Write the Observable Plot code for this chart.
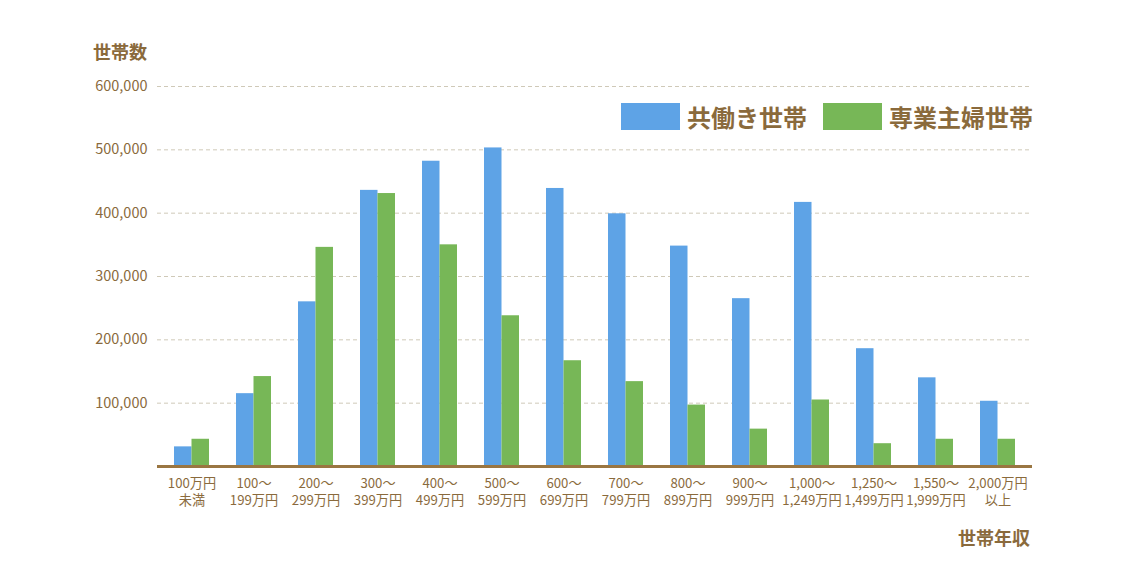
<!DOCTYPE html>
<html><head><meta charset="utf-8">
<script src="https://cdn.jsdelivr.net/npm/d3@7"></script>
<script src="https://cdn.jsdelivr.net/npm/@observablehq/plot@0.6"></script>
<style>
body{margin:0;background:#fff;font-family:"Noto Sans CJK JP",sans-serif;}
#wrap{position:relative;width:1125px;height:578px;}
.lbl{position:absolute;color:#8a6a3c;font-weight:bold;white-space:nowrap;line-height:1;}
.sw{position:absolute;width:59px;height:27px;}
</style></head>
<body><div id="wrap"></div>
<script>
const categories = ["100万円\n未満","100～\n199万円","200～\n299万円","300～\n399万円","400～\n499万円","500～\n599万円","600～\n699万円","700～\n799万円","800～\n899万円","900～\n999万円","1,000～\n1,249万円","1,250～\n1,499万円","1,550～\n1,999万円","2,000万円\n以上"];
const dualIncome = [31000,115000,260000,436000,482000,503000,439000,399000,348000,265000,417000,186000,140000,103000];
const housewife  = [43000,142000,346000,431000,350000,238000,167000,134000,97000,59000,105000,36000,43000,43000];
const seriesNames = ["共働き世帯","専業主婦世帯"];
const yTicks = [100000,200000,300000,400000,500000,600000];
const colors = ["#5ea3e6","#77b757"];
const brown = "#8a6a3c";

const rows = categories.map((c,i)=>({cat:c, a:dualIncome[i], b:housewife[i]}));

const chart = Plot.plot({
  width:1125, height:578,
  marginLeft:157, marginRight:93, marginTop:86, marginBottom:112,
  style:{fontFamily:'"Noto Sans CJK JP",sans-serif', fontSize:"14px", color:brown, background:"transparent"},
  x:{domain:categories, paddingInner:0.44, paddingOuter:0.22, label:null},
  y:{domain:[0,600000], label:null},
  marks:[
    Plot.gridY(yTicks,{stroke:"#cfc9b8", strokeOpacity:1, strokeDasharray:"4,3", strokeWidth:1}),
    Plot.barY(rows,{x:"cat", y:"a", fill:colors[0], insetRight:17.5, insetLeft:0}),
    Plot.barY(rows,{x:"cat", y:"b", fill:colors[1], insetLeft:17.5, insetRight:0}),
    Plot.ruleY([0],{stroke:"#9a7642", strokeWidth:3}),
    Plot.axisY({ticks:yTicks, tickFormat:d3.format(","), tickSize:0, tickPadding:10, label:null, fill:brown, fontSize:14.5}),
    Plot.axisX({tickSize:0, tickPadding:9, label:null, fill:brown, fontSize:13.2, lineHeight:1.32})
  ]
});
const wrap = document.getElementById("wrap");
wrap.appendChild(chart);

function addLabel(text,x,y,size){const d=document.createElement("div");d.className="lbl";d.textContent=text;d.style.left=x+"px";d.style.top=y+"px";d.style.fontSize=size+"px";wrap.appendChild(d);return d;}
function addSwatch(color,x,y){const d=document.createElement("div");d.className="sw";d.style.background=color;d.style.left=x+"px";d.style.top=y+"px";wrap.appendChild(d);}
addLabel("世帯数",93,42,18);
addLabel("世帯年収",958,528,18);
addSwatch(colors[0],621,103);
addLabel(seriesNames[0],687,105,24);
addSwatch(colors[1],823,103);
addLabel(seriesNames[1],889,105,24);
</script></body></html>
